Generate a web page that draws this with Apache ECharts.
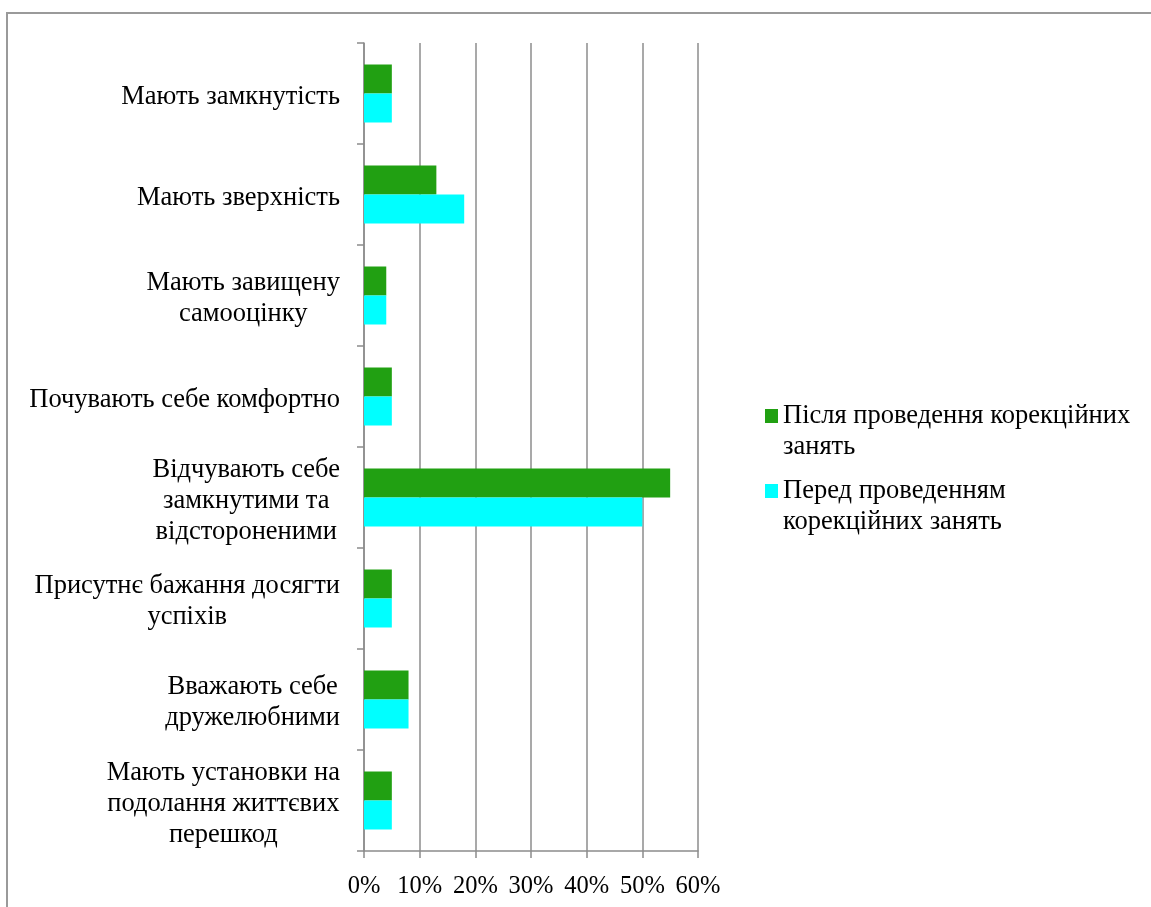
<!DOCTYPE html>
<html>
<head>
<meta charset="utf-8">
<script src="https://cdn.jsdelivr.net/npm/echarts@6/dist/echarts.min.js"></script>
<style>
  html, body { margin: 0; padding: 0; background: #fff; }
  #chart { width: 1151px; height: 907px; }
</style>
</head>
<body>
<div id="chart"></div>
<script>
// Categories, top to bottom (manual line breaks kept as in the labels)
const categories = [
  'Мають замкнутість',
  'Мають зверхність',
  'Мають завищену\nсамооцінку',
  'Почувають себе комфортно',
  'Відчувають себе\nзамкнутими та\nвідстороненими',
  'Присутнє бажання досягти\nуспіхів',
  'Вважають себе\nдружелюбними',
  'Мають установки на\nподолання життєвих\nперешкод'
];

const seriesNames = [
  'Після проведення корекційних\nзанять',
  'Перед проведенням\nкорекційних занять'
];

// Percent values
const afterValues  = [5, 13, 4, 5, 55, 5, 8, 5];
const beforeValues = [5, 18, 4, 5, 50, 5, 8, 5];

const xTicks = [0, 10, 20, 30, 40, 50, 60];

const FONT = "'Liberation Serif', 'Times New Roman', serif";
const AXIS_GRAY = '#8c8c8c';
const LEGEND_LH = 31;

const chart = echarts.init(document.getElementById('chart'), null, { renderer: 'canvas' });

const legendText = {
  fontFamily: FONT,
  fontSize: 26.5,
  color: '#000',
  lineHeight: LEGEND_LH
};
// A blank leading line keeps the icon level with the first text line
const legendFormatter = function (name) { return '\n' + name; };

function legendItem(name, iconCenterY) {
  return {
    data: [name],
    left: 765, top: iconCenterY - (LEGEND_LH * 3) / 2,
    padding: 0,
    itemWidth: 13, itemHeight: 14, itemGap: 6,
    icon: 'rect',
    formatter: legendFormatter,
    textStyle: legendText
  };
}

chart.setOption({
  backgroundColor: '#fff',
  animation: false,
  graphic: [{
    type: 'rect',
    shape: { x: 7, y: 13, width: 1300, height: 1000 },
    style: { fill: 'none', stroke: '#9a9a9a', lineWidth: 2 },
    z: 0
  }],
  grid: { left: 364, top: 43, width: 334, height: 808, containLabel: false },
  legend: [legendItem(seriesNames[0], 416), legendItem(seriesNames[1], 491)],
  xAxis: {
    type: 'value',
    min: xTicks[0],
    max: xTicks[xTicks.length - 1],
    interval: 10,
    axisLine: { show: true, lineStyle: { color: AXIS_GRAY, width: 1.5 } },
    axisTick: { show: true, length: 7, lineStyle: { color: AXIS_GRAY, width: 1.5 } },
    splitLine: { show: true, lineStyle: { color: AXIS_GRAY, width: 1.5 } },
    axisLabel: {
      formatter: '{value}%',
      fontFamily: FONT, fontSize: 24.5, color: '#000', margin: 23
    }
  },
  yAxis: {
    type: 'category',
    data: categories,
    inverse: true,
    axisLine: { show: true, lineStyle: { color: AXIS_GRAY, width: 1.5 } },
    axisTick: { show: true, length: 7, alignWithLabel: false, lineStyle: { color: AXIS_GRAY, width: 1.5 } },
    axisLabel: {
      margin: 24,
      align: 'right',
      interval: 0,
      padding: [7, 0, 0, 0],
      formatter: function (v) {
        return v.split('\n').map(function (l) { return '{c|' + l + '}'; }).join('\n');
      },
      rich: {
        c: { align: 'center', fontFamily: FONT, fontSize: 26.5, color: '#000', lineHeight: 31 }
      }
    }
  },
  series: [
    {
      name: seriesNames[0],
      type: 'bar',
      data: afterValues,
      barWidth: 29,
      barGap: '0%',
      itemStyle: { color: '#21a012' }
    },
    {
      name: seriesNames[1],
      type: 'bar',
      data: beforeValues,
      barWidth: 29,
      barGap: '0%',
      itemStyle: { color: '#00ffff' }
    }
  ]
});
</script>
</body>
</html>
